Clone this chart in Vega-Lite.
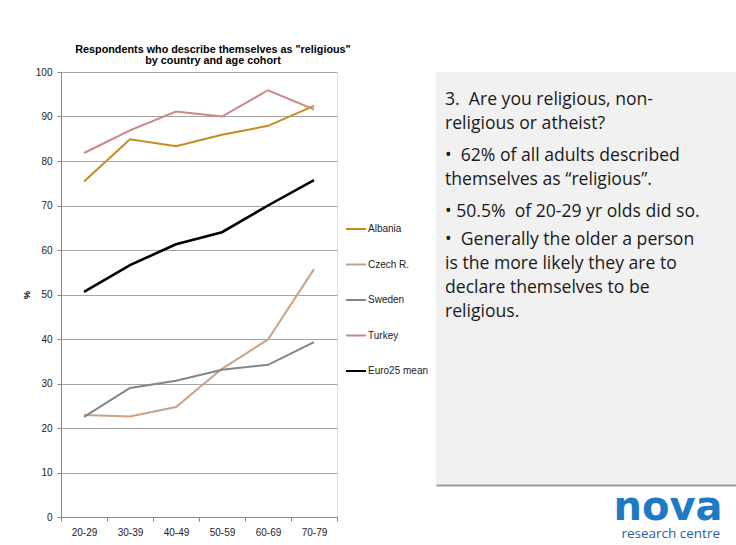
{
  "$schema": "https://vega.github.io/schema/vega-lite/v6.json",
  "background": "white",
  "padding": {"left": 21, "top": 43, "right": 0, "bottom": 0},
  "spacing": 84,
  "datasets": {
    "series": [
      {"country": "Albania", "age": "20-29", "pct": 75.4},
      {"country": "Albania", "age": "30-39", "pct": 84.9},
      {"country": "Albania", "age": "40-49", "pct": 83.3},
      {"country": "Albania", "age": "50-59", "pct": 85.9},
      {"country": "Albania", "age": "60-69", "pct": 87.9},
      {"country": "Albania", "age": "70-79", "pct": 92.4},
      {"country": "Czech R.", "age": "20-29", "pct": 22.9},
      {"country": "Czech R.", "age": "30-39", "pct": 22.6},
      {"country": "Czech R.", "age": "40-49", "pct": 24.7},
      {"country": "Czech R.", "age": "50-59", "pct": 33.3},
      {"country": "Czech R.", "age": "60-69", "pct": 39.9},
      {"country": "Czech R.", "age": "70-79", "pct": 55.7},
      {"country": "Sweden", "age": "20-29", "pct": 22.5},
      {"country": "Sweden", "age": "30-39", "pct": 29.0},
      {"country": "Sweden", "age": "40-49", "pct": 30.6},
      {"country": "Sweden", "age": "50-59", "pct": 33.1},
      {"country": "Sweden", "age": "60-69", "pct": 34.2},
      {"country": "Sweden", "age": "70-79", "pct": 39.3},
      {"country": "Turkey", "age": "20-29", "pct": 81.8},
      {"country": "Turkey", "age": "30-39", "pct": 86.9},
      {"country": "Turkey", "age": "40-49", "pct": 91.1},
      {"country": "Turkey", "age": "50-59", "pct": 90.0},
      {"country": "Turkey", "age": "60-69", "pct": 95.9},
      {"country": "Turkey", "age": "70-79", "pct": 91.6},
      {"country": "Euro25 mean", "age": "20-29", "pct": 50.6},
      {"country": "Euro25 mean", "age": "30-39", "pct": 56.6},
      {"country": "Euro25 mean", "age": "40-49", "pct": 61.3},
      {"country": "Euro25 mean", "age": "50-59", "pct": 64.0},
      {"country": "Euro25 mean", "age": "60-69", "pct": 70.0},
      {"country": "Euro25 mean", "age": "70-79", "pct": 75.7}
    ],
    "notes": [
      {"line": 1, "text": "3.\u00a0 Are you religious, non-\nreligious or atheist?"},
      {"line": 3, "text": "•\u00a0 62% of all adults described\nthemselves as “religious”."},
      {"line": 5, "text": "• 50.5%\u00a0 of 20-29 yr olds did so."},
      {"line": 6, "text": "•\u00a0 Generally the older a person\nis the more likely they are to\ndeclare themselves to be\nreligious."}
    ]
  },
  "hconcat": [
    {
      "width": 276,
      "height": 445,
      "title": {
        "text": ["Respondents who describe themselves as \"religious\"", "by country and age cohort"],
        "font": "Liberation Sans",
        "fontSize": 10.8,
        "fontWeight": "bold",
        "color": "#000000",
        "anchor": "middle",
        "frame": "group",
        "dx": 14,
        "lineHeight": 11,
        "offset": 1
      },
      "data": {"name": "series"},
      "mark": {"type": "line"},
      "encoding": {
        "x": {
          "field": "age",
          "type": "ordinal",
          "sort": ["20-29", "30-39", "40-49", "50-59", "60-69", "70-79"],
          "scale": {"type": "band", "paddingInner": 0, "paddingOuter": 0},
          "axis": {
            "title": null,
            "labelAngle": 0,
            "tickBand": "extent",
            "grid": false,
            "domainColor": "#888888",
            "tickColor": "#888888",
            "tickSize": 4,
            "labelPadding": 6,
            "labelFont": "Liberation Sans",
            "labelFontSize": 10,
            "labelColor": "#222222"
          }
        },
        "y": {
          "field": "pct",
          "type": "quantitative",
          "scale": {"domain": [0, 100], "nice": false},
          "axis": {
            "title": "%",
            "titleFont": "Liberation Sans",
            "titleFontSize": 9,
            "titleFontWeight": "bold",
            "titleColor": "#000000",
            "titlePadding": 4,
            "values": [0, 10, 20, 30, 40, 50, 60, 70, 80, 90, 100],
            "grid": true,
            "gridColor": "#a6a6a6",
            "gridWidth": 1,
            "domainColor": "#888888",
            "tickColor": "#888888",
            "tickSize": 4,
            "labelPadding": 5,
            "labelFont": "Liberation Sans",
            "labelFontSize": 10,
            "labelColor": "#222222"
          }
        },
        "color": {
          "field": "country",
          "type": "nominal",
          "scale": {
            "domain": ["Albania", "Czech R.", "Sweden", "Turkey", "Euro25 mean"],
            "range": ["#c68b1c", "#c9a283", "#858585", "#cd8585", "#000000"]
          },
          "legend": {
            "orient": "none",
            "legendX": 284,
            "legendY": 146,
            "title": null,
            "padding": 0,
            "symbolType": "stroke",
            "symbolSize": 400,
            "symbolStrokeWidth": 2,
            "rowPadding": 19.5,
            "labelOffset": 1,
            "labelFont": "Liberation Sans",
            "labelFontSize": 10,
            "labelColor": "#222222"
          }
        },
        "strokeWidth": {
          "condition": {"test": "datum.country === 'Euro25 mean'", "value": 2.6},
          "value": 2
        }
      }
    },
    {
      "width": 300,
      "height": 413,
      "view": {"fill": "#f1f1f1", "stroke": null},
      "title": {
        "text": "research centre",
        "orient": "bottom",
        "anchor": "end",
        "dx": -16,
        "offset": 0,
        "font": "Open Sans",
        "fontSize": 13.5,
        "fontWeight": "normal",
        "color": "#2b5ea8"
      },
      "data": {"name": "notes"},
      "mark": {
        "type": "text",
        "align": "left",
        "baseline": "alphabetic",
        "font": "Open Sans",
        "fontSize": 17.6,
        "lineHeight": 24,
        "lineBreak": "\n",
        "color": "#1a1a1a",
        "dx": 9
      },
      "encoding": {
        "x": {
          "datum": 0,
          "type": "quantitative",
          "scale": {"domain": [0, 1], "nice": false},
          "axis": {
            "title": "nova",
            "labels": false,
            "ticks": false,
            "grid": false,
            "domain": true,
            "domainColor": "#9a9a9a",
            "domainWidth": 2,
            "titleFont": "DejaVu Sans",
            "titleFontSize": 40,
            "titleFontWeight": "bold",
            "titleColor": "#1f7ac6",
            "titleX": 286,
            "titleAlign": "right",
            "titlePadding": 2
          }
        },
        "y": {
          "field": "line",
          "type": "quantitative",
          "scale": {"domain": [-0.189, 14.571], "reverse": true, "nice": false, "zero": false},
          "axis": null
        },
        "text": {"field": "text"}
      }
    }
  ]
}
